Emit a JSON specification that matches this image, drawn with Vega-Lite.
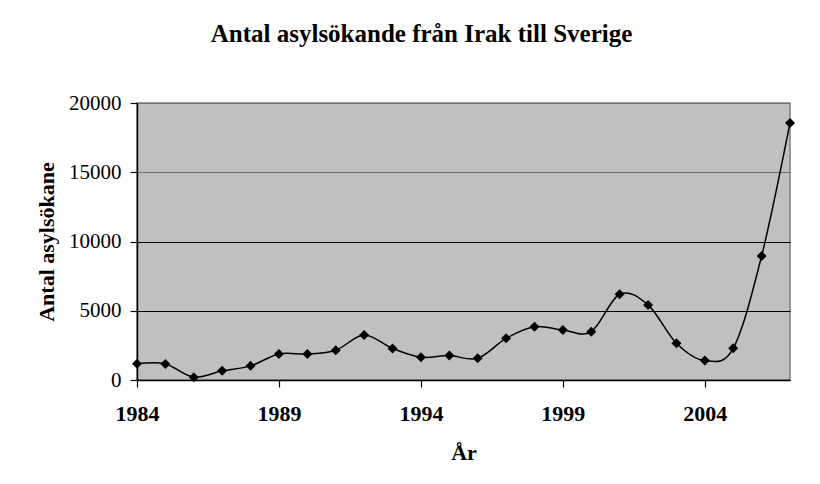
{
  "$schema": "https://vega.github.io/schema/vega-lite/v6.json",
  "width": 653,
  "height": 277,
  "autosize": {"type": "none"},
  "padding": {"left": 137, "top": 103, "right": 30, "bottom": 104},
  "background": "white",
  "title": {
    "text": "Antal asylsökande från Irak till Sverige",
    "font": "Liberation Serif",
    "fontSize": 25,
    "fontWeight": "bold",
    "color": "black",
    "anchor": "middle",
    "frame": "group",
    "dx": -42,
    "offset": 45
  },
  "config": {
    "view": {"fill": "#C0C0C0", "stroke": "#808080", "strokeWidth": 1.5}
  },
  "data": {
    "values": [
      {"year": 1984, "count": 1170},
      {"year": 1985, "count": 1160},
      {"year": 1986, "count": 200},
      {"year": 1987, "count": 660},
      {"year": 1988, "count": 1020},
      {"year": 1989, "count": 1880},
      {"year": 1990, "count": 1880},
      {"year": 1991, "count": 2150},
      {"year": 1992, "count": 3250},
      {"year": 1993, "count": 2280},
      {"year": 1994, "count": 1640},
      {"year": 1995, "count": 1760},
      {"year": 1996, "count": 1570},
      {"year": 1997, "count": 3010},
      {"year": 1998, "count": 3850},
      {"year": 1999, "count": 3610},
      {"year": 2000, "count": 3490},
      {"year": 2001, "count": 6190},
      {"year": 2002, "count": 5420},
      {"year": 2003, "count": 2650},
      {"year": 2004, "count": 1400},
      {"year": 2005, "count": 2290},
      {"year": 2006, "count": 8951},
      {"year": 2007, "count": 18559}
    ]
  },
  "encoding": {
    "x": {
      "field": "year",
      "type": "quantitative",
      "scale": {"domain": [1984, 2007], "nice": false, "zero": false},
      "axis": {
        "title": "År",
        "values": [1984, 1989, 1994, 1999, 2004],
        "format": "d",
        "grid": false,
        "domainColor": "black",
        "domainWidth": 1.5,
        "tickColor": "black",
        "tickSize": 7,
        "tickWidth": 1.2,
        "labelFont": "Liberation Serif",
        "labelFontSize": 22,
        "labelFontWeight": "bold",
        "labelColor": "black",
        "labelPadding": 16,
        "labelFlush": false,
        "titleFont": "Liberation Serif",
        "titleFontSize": 22,
        "titleFontWeight": "bold",
        "titleColor": "black",
        "titlePadding": 18
      }
    },
    "y": {
      "field": "count",
      "type": "quantitative",
      "scale": {"domain": [0, 20000], "nice": false},
      "axis": {
        "title": "Antal asylsökane",
        "values": [0, 5000, 10000, 15000, 20000],
        "format": "d",
        "grid": true,
        "gridColor": {"condition": {"test": "datum.value >= 15000", "value": "#707070"}, "value": "black"},
        "gridWidth": 1.2,
        "domainColor": "black",
        "domainWidth": 1.5,
        "tickColor": "black",
        "tickSize": 7,
        "tickWidth": 1.2,
        "labelFont": "Liberation Serif",
        "labelFontSize": 21,
        "labelColor": "black",
        "labelPadding": 9,
        "labelFlush": false,
        "titleFont": "Liberation Serif",
        "titleFontSize": 22,
        "titleFontWeight": "bold",
        "titleColor": "black",
        "titlePadding": 10
      }
    }
  },
  "layer": [
    {
      "mark": {"type": "line", "interpolate": "cardinal", "color": "black", "strokeWidth": 1.5}
    },
    {
      "mark": {"type": "point", "shape": "diamond", "filled": true, "color": "black", "size": 100, "opacity": 1}
    }
  ]
}
